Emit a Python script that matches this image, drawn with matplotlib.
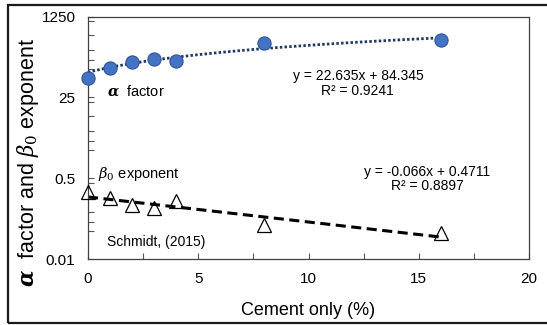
import matplotlib
matplotlib.use("Agg")
import matplotlib.pyplot as plt
import matplotlib.ticker as mticker
import numpy as np
from matplotlib.patches import Rectangle

plt.rcParams.update({
    "font.family": ["Liberation Sans", "DejaVu Sans"],
    "mathtext.fontset": "dejavuserif",
    "font.size": 10,
})

# cement content (%) and the two fitted parameters
CEMENT = [0, 1, 2, 3, 4, 8, 16]
ALPHA = [64, 104, 139, 161, 146, 348, 402]
BETA0 = [0.254, 0.190, 0.138, 0.117, 0.167, 0.052, 0.035]

# trendline of alpha as printed on the chart (slope, intercept)
ALPHA_FIT = (22.635, 84.345)

YTICKS = [0.01, 0.5, 25, 1250]
YTICK_LABELS = ["0.01", "0.5", "25", "1250"]
XTICKS = [0, 5, 10, 15, 20]

BLUE = "#4472C4"
BLUE_EDGE = "#2F5597"
NAVY = "#1F3864"


def main():
    W, H = 547, 325
    fig = plt.figure(figsize=(W / 100, H / 100), dpi=100)
    ax = fig.add_axes([88 / W, 1 - 259.3 / H, (529 - 88) / W, (259.3 - 16.5) / H])

    x = np.array(CEMENT, dtype=float)
    xx = np.linspace(x.min(), x.max(), 200)

    # alpha: linear trendline (curved on the log axis)
    a_fit = ALPHA_FIT[0] * xx + ALPHA_FIT[1]
    ax.plot(xx, a_fit, color=NAVY, linestyle=(0, (0.9, 0.8)), linewidth=2.0, zorder=2)
    ax.plot(x, ALPHA, linestyle="none", marker="o", markersize=9.5,
            markerfacecolor=BLUE, markeredgecolor=BLUE_EDGE, markeredgewidth=0.8,
            zorder=4, clip_on=False)

    # beta0: exponential trendline fitted to the points
    slope, icpt = np.polyfit(x, np.log(BETA0), 1)
    b_fit = np.exp(icpt + slope * xx)
    ax.plot(xx, b_fit, color="black", linestyle=(0, (3.3, 1.8)), linewidth=2.2, zorder=2)
    ax.plot(x, BETA0, linestyle="none", marker="^", markersize=10,
            markerfacecolor="none", markeredgecolor="black", markeredgewidth=0.9,
            zorder=4, clip_on=False)

    ax.set_yscale("log", base=50)
    ax.set_ylim(0.01, 1250)
    ax.set_xlim(0, 20)
    ax.set_yticks(YTICKS, labels=YTICK_LABELS)
    ax.yaxis.set_minor_locator(mticker.LogLocator(base=50, subs=(2, 3, 5, 10, 20)))
    ax.yaxis.set_minor_formatter(mticker.NullFormatter())
    ax.set_xticks(XTICKS)
    ax.xaxis.set_minor_locator(mticker.MultipleLocator(2.5))

    ax.tick_params(axis="both", which="both", direction="in", color="#555555",
                   labelsize=11, width=0.8, length=4)
    ax.tick_params(axis="y", pad=9)
    ax.tick_params(axis="x", pad=9.5)
    for sp in ax.spines.values():
        sp.set_color("#404040")
        sp.set_linewidth(0.9)

    ax.set_xlabel("Cement only (%)", fontsize=13, labelpad=11.5)

    fig.text(28 / W, 1 - 162 / H, r"$\mathbfit{\alpha}$  factor and $\beta_0$ exponent",
             rotation=90, ha="center", va="center", fontsize=15.5)

    # annotations
    def at(px, py, s, **kw):
        fig.text(px / W, 1 - py / H, s, **kw)

    at(107, 91, r"$\mathbfit{\alpha}$  factor", ha="left", va="center", fontsize=10.5)
    at(358, 76, "y = 22.635x + 84.345", ha="center", va="center", fontsize=10)
    at(357, 91, "R² = 0.9241", ha="center", va="center", fontsize=10)
    at(98, 174, r"$\beta_0$ exponent", ha="left", va="center", fontsize=10.5)
    at(427, 172, "y = -0.066x + 0.4711", ha="center", va="center", fontsize=10)
    at(427, 186, "R² = 0.8897", ha="center", va="center", fontsize=10)
    at(107, 242, "Schmidt, (2015)", ha="left", va="center", fontsize=10)

    # outer frame of the original figure (cut on the right)
    frame = Rectangle((8 / W, 2 / H), 1.2, (323 - 5) / H, transform=fig.transFigure,
                      fill=False, edgecolor="#1a1a1a", linewidth=1.6, clip_on=False)
    fig.add_artist(frame)

    fig.savefig("out.png", dpi=100, facecolor="white")
    plt.close(fig)


if __name__ == "__main__":
    main()
